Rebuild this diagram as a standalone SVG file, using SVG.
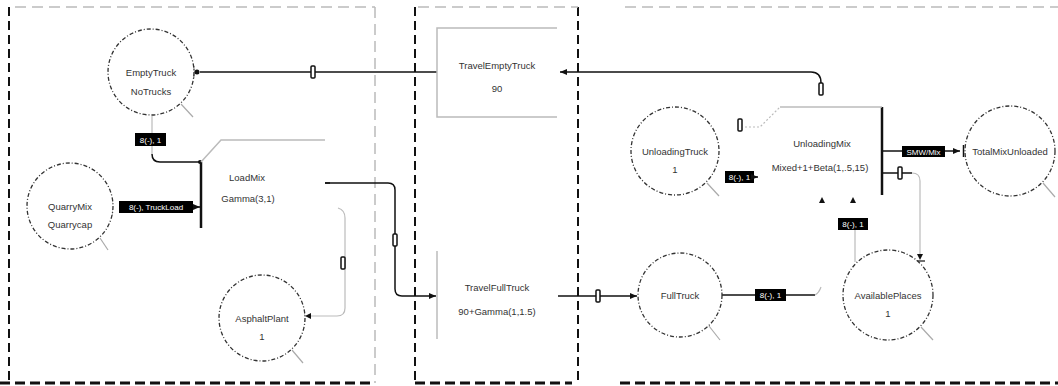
<svg xmlns="http://www.w3.org/2000/svg" width="1058" height="386" viewBox="0 0 1058 386">
<style>
.bk{fill:none;stroke:#111;stroke-width:2;stroke-dasharray:9 5}
.bkb{fill:none;stroke:#111;stroke-width:3;stroke-dasharray:10 5}
.gr{fill:none;stroke:#bbb;stroke-width:1.5;stroke-dasharray:11 6}
.place{fill:#fff;stroke:#333;stroke-width:1.3;stroke-dasharray:4 2 1 2}
.tail{stroke:#aaa;stroke-width:1.2}
.t{font-family:"Liberation Sans",Arial,sans-serif;font-size:9.5px;fill:#333;text-anchor:middle}
.lb{fill:#000}
.lt{font-family:"Liberation Sans",Arial,sans-serif;font-size:8px;fill:#fff;text-anchor:middle}
.c{fill:none;stroke:#111;stroke-width:1.5}
.cg{fill:none;stroke:#bbb;stroke-width:1.2}
.bar{stroke:#111;stroke-width:2.5}
.shape{fill:none;stroke:#bbb;stroke-width:1.5}
.mk{fill:#fff;stroke:#111;stroke-width:1.5}
</style>
<defs>
<marker id="ah" markerWidth="8" markerHeight="8" refX="7" refY="4" orient="auto" markerUnits="userSpaceOnUse">
<path d="M0,1 L7,4 L0,7 z" fill="#111"/>
</marker>
</defs>
<g id="pools">
<line class="bk" x1="9" y1="7" x2="9" y2="383"/>
<line class="gr" x1="15" y1="7" x2="375" y2="7"/>
<line class="gr" x1="375" y1="7" x2="375" y2="383"/>
<line class="bkb" x1="0" y1="383" x2="372" y2="383"/>
<line class="bk" x1="415" y1="7" x2="415" y2="383"/>
<line class="bk" x1="578" y1="7" x2="578" y2="383"/>
<line class="gr" x1="418" y1="7" x2="578" y2="7"/>
<line class="bkb" x1="415" y1="383" x2="572" y2="383"/>
<line class="gr" x1="625" y1="7" x2="1058" y2="7"/>
<line class="bkb" x1="620" y1="383" x2="1058" y2="383"/>
</g>
<g id="connectors">
<path class="c" d="M437 72 L200 72"/>
<circle cx="197" cy="72" r="2.5" fill="#111"/>
<line x1="193.5" y1="66" x2="193.5" y2="78" stroke="#111" stroke-width="1.5"/>
<rect class="mk" x="311" y="66" width="4" height="12" rx="1"/>
<path class="c" d="M821 83 Q821 72 811 72 L560 72" marker-end="url(#ah)"/>
<rect class="mk" x="819" y="83" width="4" height="12" rx="1"/>
<path class="cg" d="M152 116 L152 133"/>
<rect class="lb" x="135" y="133" width="31" height="13"/>
<text class="lt" x="150.5" y="142.5">8(-), 1</text>
<path class="cg" d="M152 146 L152 154"/>
<path class="c" d="M152 154 Q152 162 160 162 L199 162"/>
<circle cx="200" cy="162" r="2" fill="#111"/>
<line x1="112" y1="200" x2="112" y2="215" stroke="#777" stroke-width="1"/>
<rect class="lb" x="119" y="201" width="74" height="12"/>
<text class="lt" x="156" y="210">8(-), TruckLoad</text>
<path class="c" d="M193 207 L200 207" marker-end="url(#ah)"/>
<path class="c" d="M325 183 L388 183 Q395 183 395 190 L395 289 Q395 296 402 296 L436 296" marker-end="url(#ah)"/>
<rect class="mk" x="393" y="234" width="4" height="12" rx="1"/>
<path class="cg" d="M338 208 Q345 210 345 218 L345 308 Q345 316 337 316 L310 316"/>
<path d="M311 313 L305 316 L311 319 z" fill="#111"/>
<line x1="304" y1="310" x2="304" y2="322" stroke="#111" stroke-width="1.2"/>
<rect class="mk" x="341" y="257" width="4" height="12" rx="1"/>
<path class="c" d="M558 296 L637 296" marker-end="url(#ah)"/>
<rect class="mk" x="596" y="290" width="4" height="12" rx="1"/>
<path class="c" d="M721 295 L815 295"/>
<path class="cg" d="M815 295 Q819 293 821 287"/>
<rect class="lb" x="755" y="289" width="31" height="12"/>
<text class="lt" x="770.5" y="298">8(-), 1</text>
<rect class="lb" x="725" y="171" width="29" height="12"/>
<text class="lt" x="739.5" y="180">8(-), 1</text>
<path class="c" d="M754 177 L758 177" marker-end="url(#ah)"/>
<path class="cg" d="M855 262 L855 230"/>
<rect class="lb" x="838" y="218" width="30" height="12"/>
<text class="lt" x="853" y="227">8(-), 1</text>
<path d="M850 203 L853 197 L856 203 z" fill="#111"/>
<path d="M819 203 L822 197 L825 203 z" fill="#111"/>
<path class="c" d="M882 151 L960 151" marker-end="url(#ah)"/>
<line x1="963.5" y1="145" x2="963.5" y2="157" stroke="#111" stroke-width="1.5"/>
<rect class="lb" x="902" y="146" width="43" height="11"/>
<text class="lt" x="923.5" y="154.5">SMW/Mix</text>
<path class="c" d="M882 173 L912 173"/>
<path class="cg" d="M912 173 Q920 173 920 181 L920 255"/>
<path d="M917 254 L920 260 L923 254 z" fill="#111"/>
<line x1="915" y1="261" x2="925" y2="261" stroke="#111" stroke-width="1.2"/>
<rect class="mk" x="898" y="167" width="4" height="12" rx="1"/>
<path class="cg" d="M745 127 L760 127 L780 107" stroke-dasharray="2 2"/>
<rect class="mk" x="738" y="119" width="4" height="12" rx="1"/>
</g>
<g id="EmptyTruck">
<circle class="place" cx="151" cy="72" r="43"/>
<line class="tail" x1="181" y1="104" x2="193" y2="117"/>
<text class="t" x="151" y="76">EmptyTruck</text>
<text class="t" x="151" y="95">NoTrucks</text>
</g>
<g id="QuarryMix">
<circle class="place" cx="70" cy="206" r="43"/>
<line class="tail" x1="100" y1="238" x2="108" y2="250"/>
<text class="t" x="70" y="210">QuarryMix</text>
<text class="t" x="70" y="228">Quarrycap</text>
</g>
<g id="LoadMix">
<line class="bar" x1="201" y1="162" x2="201" y2="228"/>
<path class="shape" d="M201 162 L221 140 L325 140"/>
<line stroke="#111" stroke-width="1.5" x1="325" y1="183" x2="330" y2="183"/>
<text class="t" x="247" y="181">LoadMix</text>
<text class="t" x="248" y="202">Gamma(3,1)</text>
</g>
<g id="AsphaltPlant">
<circle class="place" cx="262" cy="318" r="43"/>
<line class="tail" x1="292" y1="350" x2="303" y2="363"/>
<text class="t" x="262" y="322">AsphaltPlant</text>
<text class="t" x="262" y="340">1</text>
</g>
<g id="TravelEmptyTruck">
<path class="shape" d="M557 28 L437 28 L437 117 L557 117"/>
<text class="t" x="497" y="69">TravelEmptyTruck</text>
<text class="t" x="497" y="92">90</text>
</g>
<g id="TravelFullTruck">
<line class="shape" x1="437" y1="251" x2="437" y2="339"/>
<text class="t" x="497" y="291">TravelFullTruck</text>
<text class="t" x="497" y="315">90+Gamma(1,1.5)</text>
</g>
<g id="UnloadingTruck">
<circle class="place" cx="675" cy="151" r="44"/>
<line class="tail" x1="707" y1="183" x2="719" y2="196"/>
<text class="t" x="675" y="155">UnloadingTruck</text>
<text class="t" x="675" y="173">1</text>
</g>
<g id="UnloadingMix">
<line class="bar" x1="882" y1="107" x2="882" y2="195"/>
<line class="shape" x1="780" y1="107" x2="882" y2="107"/>
<text class="t" x="822" y="147">UnloadingMix</text>
<text class="t" x="820" y="171">Mixed+1+Beta(1,.5,15)</text>
</g>
<g id="TotalMixUnloaded">
<circle class="place" cx="1010" cy="151" r="45"/>
<line class="tail" x1="1043" y1="183" x2="1055" y2="197"/>
<text class="t" x="1010" y="155">TotalMixUnloaded</text>
</g>
<g id="FullTruck">
<circle class="place" cx="680" cy="295" r="42"/>
<line class="tail" x1="709" y1="326" x2="720" y2="340"/>
<text class="t" x="680" y="299">FullTruck</text>
</g>
<g id="AvailablePlaces">
<circle class="place" cx="888" cy="295" r="45"/>
<line class="tail" x1="921" y1="327" x2="933" y2="340"/>
<text class="t" x="888" y="299">AvailablePlaces</text>
<text class="t" x="888" y="317">1</text>
</g>
</svg>
